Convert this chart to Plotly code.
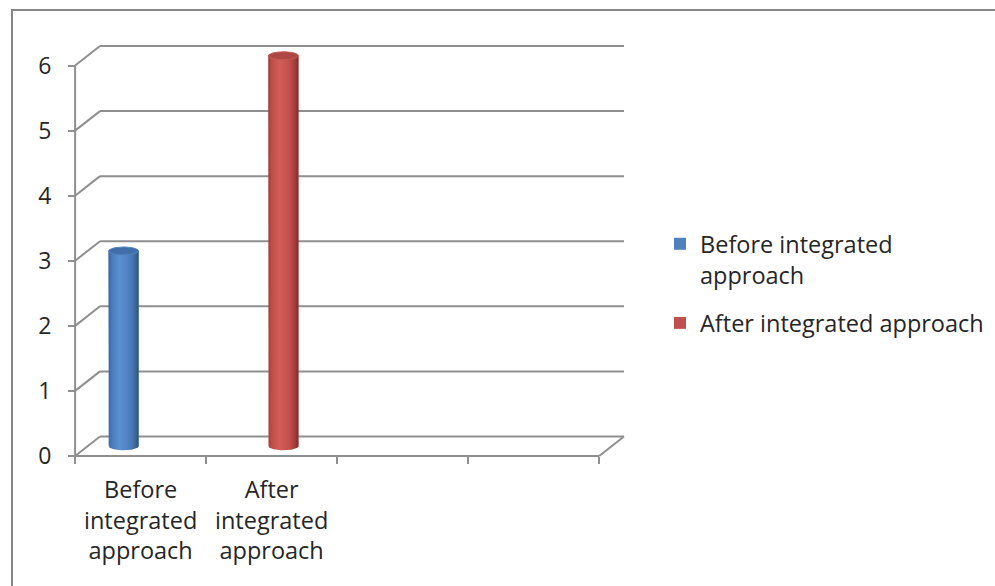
import numpy as np
import plotly.graph_objects as go

# ---- data -------------------------------------------------------------
categories = ["Before<br>integrated<br>approach", "After<br>integrated<br>approach"]
series_names = ["Before integrated<br>approach", "After integrated approach"]
values = [3, 6]
y_ticks = [0, 1, 2, 3, 4, 5, 6]
slot_edges = [0, 1, 2, 3, 4]          # category slot boundaries on the floor

# ---- style ------------------------------------------------------------
FONT = "Open Sans"
TEXT = "#262626"
GRID = "#8f8f8f"
DEPTH_X = 0.19      # oblique depth of the back wall, x units
DEPTH_Y = 0.30      # oblique depth of the back wall, y units
bar_centres = [0.37, 1.59]
bar_width = 0.229
cap_ry = 0.062
legend_colors = ["#4F81BD", "#C0504D"]
body_scales = [
    [[0, "#38649b"], [0.1, "#4879b8"], [0.38, "#5b90d3"], [0.72, "#4b7dbe"],
     [0.9, "#3b6699"], [1, "#2c4f7d"]],
    [[0, "#9e3b38"], [0.1, "#bd4d49"], [0.38, "#d35d58"], [0.72, "#c04f4b"],
     [0.9, "#9d3b38"], [1, "#7d2c2a"]],
]
cap_colors = ["#406fab", "#ad4844"]
cap_edges = ["#5584c0", "#c45a56"]

X_RANGE = [-0.1, 4.35]
Y_RANGE = [-0.2, 6.5]
M_L, M_R, M_T, M_B = 62, 350, 33, 117
W, H = 995, 586

fig = go.Figure()

# bars (value-driven); the shaded cylinder is laid over each one
for i, (name, v, c, col) in enumerate(zip(series_names, values, bar_centres, legend_colors)):
    fig.add_trace(go.Bar(
        x=[c], y=[v], base=[DEPTH_Y / 2], width=[bar_width], name=name,
        legendgroup=f"s{i}",
        marker=dict(color=col, line=dict(width=0)), hoverinfo="skip",
    ))

hw = bar_width / 2
for v, c, scale, capc, cape in zip(values, bar_centres, body_scales, cap_colors, cap_edges):
    base = DEPTH_Y / 2
    top = base + v
    t = np.linspace(0, np.pi, 41)
    bx = [c - hw] + list(c - hw * np.cos(t)) + [c + hw]
    by = [top] + list(base - cap_ry * np.sin(t)) + [top]
    fig.add_trace(go.Scatter(
        x=bx, y=by, mode="lines", line=dict(width=0), fill="toself",
        fillgradient=dict(type="horizontal", colorscale=scale),
        showlegend=False, hoverinfo="skip",
    ))
    t2 = np.linspace(0, 2 * np.pi, 61)
    fig.add_trace(go.Scatter(
        x=list(c + hw * np.cos(t2)), y=list(top + cap_ry * np.sin(t2)),
        mode="lines", line=dict(width=1, color=cape), fill="toself",
        fillcolor=capc, showlegend=False, hoverinfo="skip",
    ))

# ---- walls: back-wall gridlines, side-wall diagonals, floor ----------
n_slots = slot_edges[-1]
shapes = []
line = dict(color=GRID, width=2)
for v in y_ticks:
    shapes.append(dict(type="line", xref="x", yref="y", layer="below",
                       x0=DEPTH_X, y0=v + DEPTH_Y, x1=n_slots + DEPTH_X, y1=v + DEPTH_Y, line=line))
    shapes.append(dict(type="line", xref="x", yref="y", layer="below",
                       x0=0, y0=v, x1=DEPTH_X, y1=v + DEPTH_Y, line=line))
shapes.append(dict(type="line", xref="x", yref="y", layer="below",
                   x0=0, y0=0, x1=0, y1=y_ticks[-1], line=line))
shapes.append(dict(type="line", xref="x", yref="y", layer="below",
                   x0=0, y0=0, x1=n_slots, y1=0, line=line))
shapes.append(dict(type="line", xref="x", yref="y", layer="below",
                   x0=n_slots, y0=0, x1=n_slots + DEPTH_X, y1=DEPTH_Y, line=line))

# chart-area border
pw, ph = W - M_L - M_R, H - M_T - M_B
def px_x(p):
    return (p - M_L) / pw
def px_y(p):
    return (H - M_B - p) / ph
shapes.append(dict(type="rect", xref="paper", yref="paper", layer="below",
                   x0=px_x(12), y0=px_y(600), x1=px_x(1010), y1=px_y(10),
                   line=dict(color="#868686", width=2), fillcolor="rgba(0,0,0,0)"))

x_pos = (0 - X_RANGE[0]) / (X_RANGE[1] - X_RANGE[0])
y_pos = (0 - Y_RANGE[0]) / (Y_RANGE[1] - Y_RANGE[0])

fig.update_layout(
    width=W, height=H,
    margin=dict(l=M_L, r=M_R, t=M_T, b=M_B, autoexpand=False),
    paper_bgcolor="white", plot_bgcolor="white",
    barmode="overlay", shapes=shapes,
    font=dict(family=FONT, color=TEXT),
    xaxis=dict(
        range=X_RANGE, anchor="free", position=y_pos,
        tickmode="array", tickvals=[i + 0.5 for i in range(len(categories))],
        ticktext=categories, ticks="outside", ticklen=0, ticklabelstandoff=13,
        tickfont=dict(size=23.5, family=FONT, color=TEXT),
        minor=dict(tickmode="array", tickvals=slot_edges, ticks="outside",
                   ticklen=7, tickwidth=2, tickcolor=GRID, showgrid=False),
        showgrid=False, zeroline=False, showline=False, fixedrange=True,
    ),
    yaxis=dict(
        range=Y_RANGE, anchor="free", position=x_pos,
        tickmode="array", tickvals=y_ticks, ticks="outside", ticklen=7,
        tickwidth=2, tickcolor=GRID, ticklabelstandoff=12,
        tickfont=dict(size=23, family=FONT, color=TEXT),
        showgrid=False, zeroline=False, showline=False, fixedrange=True,
    ),
    legend=dict(
        x=px_x(660), y=px_y(222), xanchor="left", yanchor="top",
        font=dict(size=23.5, family=FONT, color=TEXT), valign="top",
        bgcolor="rgba(0,0,0,0)", traceorder="grouped", tracegroupgap=15,
    ),
    showlegend=True,
)

fig.write_html("out.html")
